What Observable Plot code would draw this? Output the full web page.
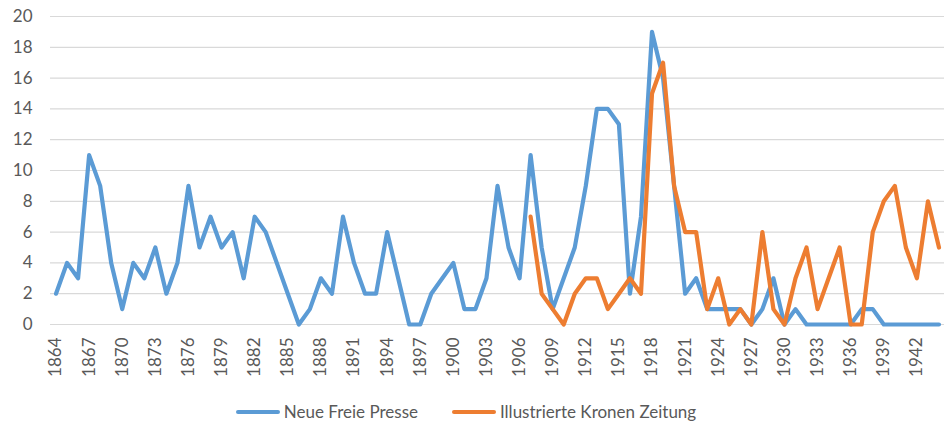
<!DOCTYPE html>
<html>
<head>
<meta charset="utf-8">
<script src="https://cdn.jsdelivr.net/npm/d3@7"></script>
<script src="https://cdn.jsdelivr.net/npm/@observablehq/plot@0.6"></script>
<style>
  body { margin: 0; background: #fff; font-family: Lato, "Open Sans", sans-serif; }
  #chart svg { display: block; }
  .legend { display: flex; justify-content: center; align-items: center; height: 35px; padding-top: 4px; font-size: 17px; color: #595959; margin-left: -12px; }
  .legend .item { display: flex; align-items: center; margin: 0 17px; }
  .legend .sw { width: 44px; height: 4px; margin-right: 4px; border-radius: 2px; }
</style>
</head>
<body>
<div id="chart"></div>
<div class="legend">
  <div class="item"><span class="sw" style="background:#5B9BD5"></span><span>Neue Freie Presse</span></div>
  <div class="item"><span class="sw" style="background:#ED7D31"></span><span>Illustrierte Kronen Zeitung</span></div>
</div>
<script>
const seriesNames = ["Neue Freie Presse", "Illustrierte Kronen Zeitung"];
const colors = ["#5B9BD5", "#ED7D31"];

const nfpYears = d3.range(1864, 1945);
const nfpValues = [
  2, 4, 3, 11, 9, 4, 1, 4, 3, 5,      // 1864-1873
  2, 4, 9, 5, 7, 5, 6, 3, 7, 6,       // 1874-1883
  4, 2, 0, 1, 3, 2, 7, 4, 2, 2,       // 1884-1893
  6, 3, 0, 0, 2, 3, 4, 1, 1, 3,       // 1894-1903
  9, 5, 3, 11, 5, 1, 3, 5, 9, 14,     // 1904-1913
  14, 13, 2, 7, 19, 16, 9, 2, 3, 1,   // 1914-1923
  1, 1, 1, 0, 1, 3, 0, 1, 0, 0,       // 1924-1933
  0, 0, 0, 1, 1, 0, 0, 0, 0, 0,       // 1934-1943
  0                                   // 1944
];

const ikzYears = d3.range(1907, 1945);
const ikzValues = [
  7, 2, 1, 0, 2, 3, 3,                // 1907-1913
  1, 2, 3, 2, 15, 17, 9, 6, 6, 1,     // 1914-1923
  3, 0, 1, 0, 6, 1, 0, 3, 5, 1,       // 1924-1933
  3, 5, 0, 0, 6, 8, 9, 5, 3, 8,       // 1934-1943
  5                                   // 1944
];

const xTicks = d3.range(1864, 1943, 3);
const yTicks = d3.range(0, 21, 2);

const nfp = nfpYears.map((year, i) => ({year, value: nfpValues[i]}));
const ikz = ikzYears.map((year, i) => ({year, value: ikzValues[i]}));

const chart = Plot.plot({
  width: 944,
  height: 390,
  marginLeft: 50,
  marginRight: 0,
  marginTop: 16,
  marginBottom: 66,
  style: { fontFamily: "Lato, 'Open Sans', sans-serif", fontSize: "17px", color: "#595959", background: "#fff" },
  x: { domain: [1863.5, 1944.5] },
  y: { domain: [0, 20] },
  marks: [
    Plot.gridY(yTicks, { stroke: "#d9d9d9", strokeOpacity: 1, strokeWidth: 1.2 }),
    Plot.axisY(yTicks, { tickSize: 0, tickPadding: 18, fontSize: 17, fill: "#595959", label: null, tickFormat: d => String(d) }),
    Plot.axisX(xTicks, { tickSize: 0, tickPadding: 13, tickRotate: -90, fontSize: 17, fill: "#595959", label: null, tickFormat: d => String(d) }),
    Plot.lineY(nfp, { x: "year", y: "value", stroke: colors[0], strokeWidth: 4.2, strokeLinejoin: "round" }),
    Plot.lineY(ikz, { x: "year", y: "value", stroke: colors[1], strokeWidth: 4.2, strokeLinejoin: "round" })
  ]
});
document.getElementById("chart").appendChild(chart);
</script>
</body>
</html>
